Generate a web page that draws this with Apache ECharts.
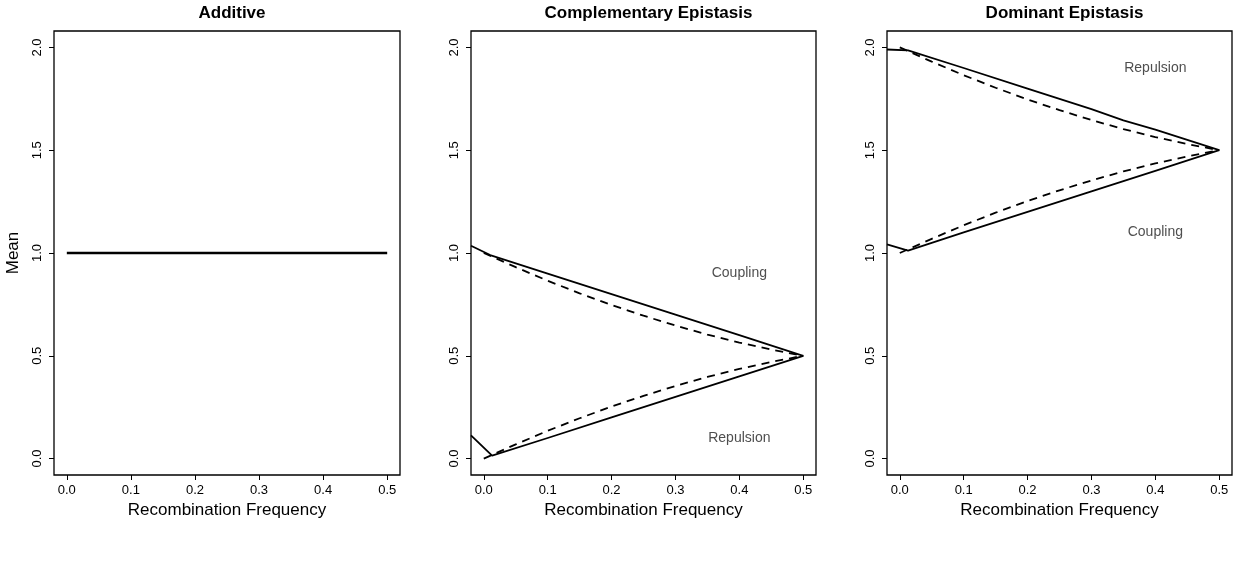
<!DOCTYPE html>
<html>
<head>
<meta charset="utf-8">
<script src="https://cdn.jsdelivr.net/npm/echarts@6/dist/echarts.min.js"></script>
<style>
html,body{margin:0;padding:0;background:#fff;}
#chart{width:1244px;height:577px;}
</style>
</head>
<body>
<div id="chart"></div>
<script>
// ---- data ----
const panelTitles = ['Additive', 'Complementary Epistasis', 'Dominant Epistasis'];
const xTicks = [0, 0.1, 0.2, 0.3, 0.4, 0.5];
const yTicks = [0, 0.5, 1, 1.5, 2];

// Additive
const addX = [0, 0.1, 0.2, 0.3, 0.4, 0.5];
const addY = [1, 1, 1, 1, 1, 1];

// Complementary epistasis
const compCoupSolidX = [-0.02, 0.01, 0.1, 0.2, 0.3, 0.4, 0.5];
const compCoupSolidY = [1.035, 0.99, 0.9, 0.8, 0.7, 0.6, 0.5];
const compRepSolidX = [-0.02, 0.013, 0.1, 0.2, 0.3, 0.4, 0.5];
const compRepSolidY = [0.113, 0.014, 0.1, 0.2, 0.3, 0.4, 0.5];
const dashX = [0, 0.05, 0.1, 0.15, 0.2, 0.25, 0.3, 0.35, 0.4, 0.45, 0.5];
const compCoupDashY = [1.0, 0.931, 0.865, 0.804, 0.747, 0.695, 0.647, 0.603, 0.564, 0.53, 0.5];
const compRepDashY = [0.0, 0.069, 0.135, 0.196, 0.253, 0.305, 0.353, 0.397, 0.436, 0.47, 0.5];

// Dominant epistasis
const domRepSolidX = [-0.02, 0.013, 0.1, 0.2, 0.3, 0.35, 0.4, 0.5];
const domRepSolidY = [1.99, 1.986, 1.9, 1.8, 1.7, 1.645, 1.6, 1.5];
const domCoupSolidX = [-0.02, 0.013, 0.1, 0.2, 0.3, 0.4, 0.5];
const domCoupSolidY = [1.042, 1.012, 1.1, 1.2, 1.3, 1.4, 1.5];
const domRepDashY = [2.0, 1.931, 1.865, 1.804, 1.747, 1.695, 1.647, 1.603, 1.564, 1.53, 1.5];
const domCoupDashY = [1.0, 1.069, 1.135, 1.196, 1.253, 1.305, 1.353, 1.397, 1.436, 1.47, 1.5];

// Text annotations
const compLabelText = ['Coupling', 'Repulsion'];
const compLabelX = [0.4, 0.4];
const compLabelY = [0.9, 0.1];
const domLabelText = ['Repulsion', 'Coupling'];
const domLabelX = [0.4, 0.4];
const domLabelY = [1.9, 1.1];

// ---- build ----
const zip = (xs, ys) => xs.map((x, i) => [x, ys[i]]);
const FONT = '"Liberation Sans", Arial, Helvetica, sans-serif';

const grids = [
  {left: 54, top: 31, width: 346, height: 444},
  {left: 471, top: 31, width: 345, height: 444},
  {left: 887, top: 31, width: 345, height: 444}
].map(g => Object.assign(g, {show: true, borderColor: '#000', borderWidth: 1.3, backgroundColor: 'transparent'}));

function xAxis(i) {
  return {
    type: 'value', gridIndex: i, min: -0.02, max: 0.52, position: 'bottom',
    name: 'Recombination Frequency', nameLocation: 'middle', nameGap: 26,
    nameTextStyle: {fontFamily: FONT, fontSize: 17, color: '#000'},
    axisLine: {show: false, onZero: false},
    axisTick: {show: true, inside: false, length: 5, customValues: xTicks, lineStyle: {color: '#000', width: 1}},
    axisLabel: {show: true, margin: 9, customValues: xTicks, fontFamily: FONT, fontSize: 13, color: '#000',
      formatter: v => v.toFixed(1)},
    splitLine: {show: false}
  };
}
function yAxis(i) {
  return {
    type: 'value', gridIndex: i, min: -0.08, max: 2.08, position: 'left',
    name: i === 0 ? 'Mean' : '', nameLocation: 'middle', nameGap: 32,
    nameTextStyle: {fontFamily: FONT, fontSize: 17, color: '#000'},
    axisLine: {show: false, onZero: false},
    axisTick: {show: true, inside: false, length: 5, customValues: yTicks, lineStyle: {color: '#000', width: 1}},
    axisLabel: {show: true, margin: 10, rotate: 90, customValues: yTicks, fontFamily: FONT, fontSize: 13, color: '#000',
      formatter: v => v.toFixed(1)},
    splitLine: {show: false}
  };
}
function line(i, xs, ys, dashed, w) {
  return {
    type: 'line', xAxisIndex: i, yAxisIndex: i, data: zip(xs, ys),
    showSymbol: false, symbol: 'none', clip: true, silent: true,
    lineStyle: {color: '#000', width: w || 1.8, type: dashed ? [8, 6] : 'solid'}
  };
}
function labels(i, xs, ys, texts) {
  return {
    type: 'scatter', xAxisIndex: i, yAxisIndex: i, symbolSize: 0.001, silent: true,
    data: xs.map((x, k) => ({value: [x, ys[k]], name: texts[k]})),
    label: {show: true, position: 'inside', formatter: p => p.name,
      fontFamily: FONT, fontSize: 14, color: '#222'}
  };
}

const centers = grids.map(g => g.left + g.width / 2);
const option = {
  animation: false,
  backgroundColor: '#fff',
  title: panelTitles.map((t, i) => ({
    text: t, left: centers[i], top: 0, textAlign: 'center',
    textStyle: {fontFamily: FONT, fontSize: 17, fontWeight: 'bold', color: '#000'}
  })),
  grid: grids,
  xAxis: [0, 1, 2].map(xAxis),
  yAxis: [0, 1, 2].map(yAxis),
  series: [
    line(0, addX, addY, false, 2.6),
    line(1, compCoupSolidX, compCoupSolidY, false),
    line(1, compRepSolidX, compRepSolidY, false),
    line(1, dashX, compCoupDashY, true),
    line(1, dashX, compRepDashY, true),
    labels(1, compLabelX, compLabelY, compLabelText),
    line(2, domRepSolidX, domRepSolidY, false),
    line(2, domCoupSolidX, domCoupSolidY, false),
    line(2, dashX, domRepDashY, true),
    line(2, dashX, domCoupDashY, true),
    labels(2, domLabelX, domLabelY, domLabelText)
  ]
};
const chart = echarts.init(document.getElementById('chart'), null, {renderer: 'canvas'});
chart.setOption(option);
</script>
</body>
</html>
